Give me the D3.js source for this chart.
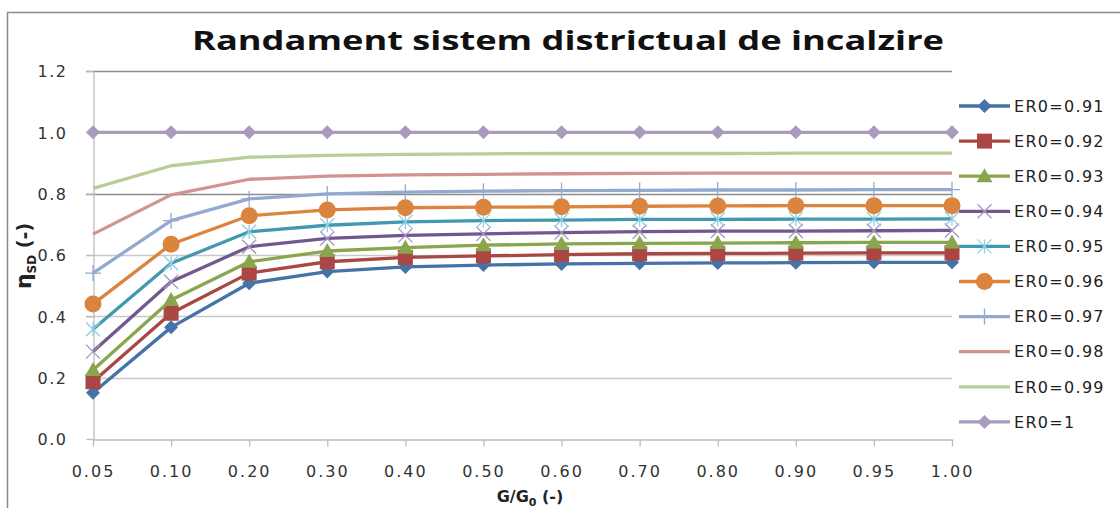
<!DOCTYPE html>
<html><head><meta charset="utf-8">
<script src="https://cdn.jsdelivr.net/npm/d3@7/dist/d3.min.js"></script>
<style>
html,body{margin:0;padding:0;background:#fff;}
svg{display:block;}
</style></head>
<body>
<svg id="chart" width="1120" height="508"></svg>
<script>
const categories = ["0.05","0.10","0.20","0.30","0.40","0.50","0.60","0.70","0.80","0.90","0.95","1.00"];
const yTicks = [0, 0.2, 0.4, 0.6, 0.8, 1.0, 1.2];
const seriesNames = ["ER0=0.91","ER0=0.92","ER0=0.93","ER0=0.94","ER0=0.95","ER0=0.96","ER0=0.97","ER0=0.98","ER0=0.99","ER0=1"];
const s091 = [0.151,0.364,0.508,0.546,0.561,0.567,0.571,0.573,0.574,0.575,0.576,0.576];
const s092 = [0.187,0.410,0.541,0.578,0.592,0.597,0.601,0.604,0.605,0.606,0.607,0.607];
const s093 = [0.225,0.453,0.578,0.613,0.624,0.632,0.636,0.638,0.639,0.640,0.641,0.641];
const s094 = [0.285,0.513,0.627,0.654,0.664,0.669,0.673,0.676,0.678,0.678,0.679,0.680];
const s095 = [0.358,0.573,0.676,0.697,0.708,0.712,0.714,0.716,0.716,0.717,0.717,0.718];
const s096 = [0.440,0.635,0.728,0.747,0.754,0.756,0.757,0.759,0.760,0.761,0.761,0.761];
const s097 = [0.541,0.712,0.783,0.799,0.805,0.808,0.810,0.811,0.812,0.812,0.813,0.813];
const s098 = [0.668,0.796,0.847,0.857,0.861,0.863,0.865,0.866,0.867,0.867,0.867,0.867];
const s099 = [0.817,0.891,0.919,0.925,0.928,0.930,0.931,0.931,0.931,0.932,0.932,0.932];
const s100 = [1,1,1,1,1,1,1,1,1,1,1,1];
const seriesValues = [s091,s092,s093,s094,s095,s096,s097,s098,s099,s100];

const colors = ["#4572A7","#AA4643","#89A54E","#71588F","#4198AF","#DB843D","#93A9CF","#D19392","#B9CD96","#A99BBD"];
const markers = ["diamond","square","triangle","x","star","circle","plus","none","none","diamond"];

const svg = d3.select("#chart");
const FONT = "'DejaVu Sans', Verdana, sans-serif";

// outer frame
svg.append("rect").attr("x",7.5).attr("y",12.5).attr("width",1140).attr("height",540)
  .attr("fill","#fff").attr("stroke","#8a8a8a").attr("stroke-width",1.5);

const x = d3.scalePoint().domain(categories).range([93, 952]);
const y = d3.scaleLinear().domain([0, 1.2]).range([439, 71]);

// gridlines
svg.append("g").selectAll("line").data(yTicks.filter(d=>d>0)).join("line")
  .attr("x1",86).attr("x2",952)
  .attr("y1",d=>Math.round(y(d))+0.5).attr("y2",d=>Math.round(y(d))+0.5)
  .attr("stroke",d=> (d===0.8||d===1.2) ? "#8c8c8c" : "#c8c8c8")
  .attr("stroke-width",1.3);

// y axis
const gy = svg.append("g").attr("transform","translate(93.5,0)")
  .call(d3.axisLeft(y).tickValues(yTicks).tickFormat(d3.format(".1f")).tickSize(7).tickSizeOuter(0));
gy.select(".domain").attr("stroke","#bdbdbd").attr("stroke-width",1.3);
gy.selectAll(".tick line").attr("stroke","#bdbdbd").attr("stroke-width",1.3);
gy.selectAll(".tick text").attr("x",-26).attr("font-family",FONT).attr("font-size",16)
  .attr("letter-spacing","1.5px").attr("fill","#333").attr("dy","0.36em");

// x axis
const gx = svg.append("g").attr("transform","translate(0,439.5)")
  .call(d3.axisBottom(x).tickSize(7).tickSizeOuter(0));
gx.select(".domain").attr("stroke","#bdbdbd").attr("stroke-width",1.3);
gx.selectAll(".tick line").attr("stroke","#bdbdbd").attr("stroke-width",1.3);
gx.selectAll(".tick text").attr("y",0).attr("dy","37px").attr("font-family",FONT).attr("font-size",16)
  .attr("letter-spacing","2px").attr("fill","#333");

// marker drawing
function drawMarker(g, type, color, cx, cy) {
  if (type === "diamond") {
    const s = 7;
    g.append("path").attr("d",`M${cx},${cy-s}L${cx+s},${cy}L${cx},${cy+s}L${cx-s},${cy}Z`).attr("fill",color);
  } else if (type === "square") {
    const s = 7.5;
    g.append("rect").attr("x",cx-s).attr("y",cy-s).attr("width",2*s).attr("height",2*s).attr("fill",color);
  } else if (type === "triangle") {
    const s = 8;
    g.append("path").attr("d",`M${cx},${cy-s}L${cx+s},${cy+s*0.75}L${cx-s},${cy+s*0.75}Z`).attr("fill",color);
  } else if (type === "x") {
    const s = 7;
    g.append("path").attr("d",`M${cx-s},${cy-s}L${cx+s},${cy+s}M${cx+s},${cy-s}L${cx-s},${cy+s}`)
      .attr("stroke","#a596c4").attr("stroke-width",1.3).attr("fill","none");
  } else if (type === "star") {
    const s = 7;
    g.append("path").attr("d",`M${cx-s},${cy-s}L${cx+s},${cy+s}M${cx+s},${cy-s}L${cx-s},${cy+s}M${cx},${cy-s}L${cx},${cy+s}`)
      .attr("stroke","#8ecfe0").attr("stroke-width",1.3).attr("fill","none");
  } else if (type === "circle") {
    g.append("circle").attr("cx",cx).attr("cy",cy).attr("r",8.5).attr("fill",color);
  } else if (type === "plus") {
    const s = 8;
    g.append("path").attr("d",`M${cx-s},${cy}L${cx+s},${cy}M${cx},${cy-s}L${cx},${cy+s}`)
      .attr("stroke",color).attr("stroke-width",1.3).attr("fill","none");
  }
}

const line = d3.line().x((d,i)=>x(categories[i])).y(d=>y(d));
const plot = svg.append("g");
seriesValues.forEach((vals, si) => {
  const g = plot.append("g");
  g.append("path").datum(vals).attr("d", line).attr("fill","none")
    .attr("stroke", colors[si]).attr("stroke-width", 3.3).attr("stroke-linejoin","round");
  vals.forEach((v,i) => drawMarker(g, markers[si], colors[si], x(categories[i]), y(v)));
});

// legend
const legend = svg.append("g");
seriesNames.forEach((name, i) => {
  const ly = 106 + i * 35.1;
  const g = legend.append("g");
  g.append("line").attr("x1",959).attr("x2",1010).attr("y1",ly).attr("y2",ly)
    .attr("stroke",colors[i]).attr("stroke-width",3.3);
  drawMarker(g, markers[i], colors[i], 984.5, ly);
  g.append("text").attr("x",1014).attr("y",ly).attr("dy","0.36em")
    .attr("font-family",FONT).attr("font-size",16).attr("letter-spacing","1.3px")
    .attr("fill","#222").text(name);
});

// title
svg.append("text").attr("x",568).attr("y",50).attr("text-anchor","middle")
  .attr("font-family","'Open Sans', 'DejaVu Sans', sans-serif").attr("font-weight","bold")
  .attr("font-size",27).attr("textLength",752).attr("lengthAdjust","spacingAndGlyphs")
  .attr("fill","#111").text("Randament sistem districtual de incalzire");

// x axis title
const xt = svg.append("text").attr("x",530).attr("y",502).attr("text-anchor","middle")
  .attr("font-family",FONT).attr("font-weight","bold").attr("font-size",16).attr("fill","#222");
xt.append("tspan").text("G/G");
xt.append("tspan").attr("font-size",11).attr("dy",4).text("0");
xt.append("tspan").attr("dy",-4).text(" (-)");

// y axis title
const yt = svg.append("text").attr("transform","translate(31,256) rotate(-90)").attr("text-anchor","middle")
  .attr("font-family",FONT).attr("font-weight","bold").attr("font-size",19).attr("fill","#222");
yt.append("tspan").attr("font-size",22).text("η");
yt.append("tspan").attr("font-size",12).attr("dy",5).text("SD");
yt.append("tspan").attr("dy",-5).text(" (-)");
</script>
</body></html>
